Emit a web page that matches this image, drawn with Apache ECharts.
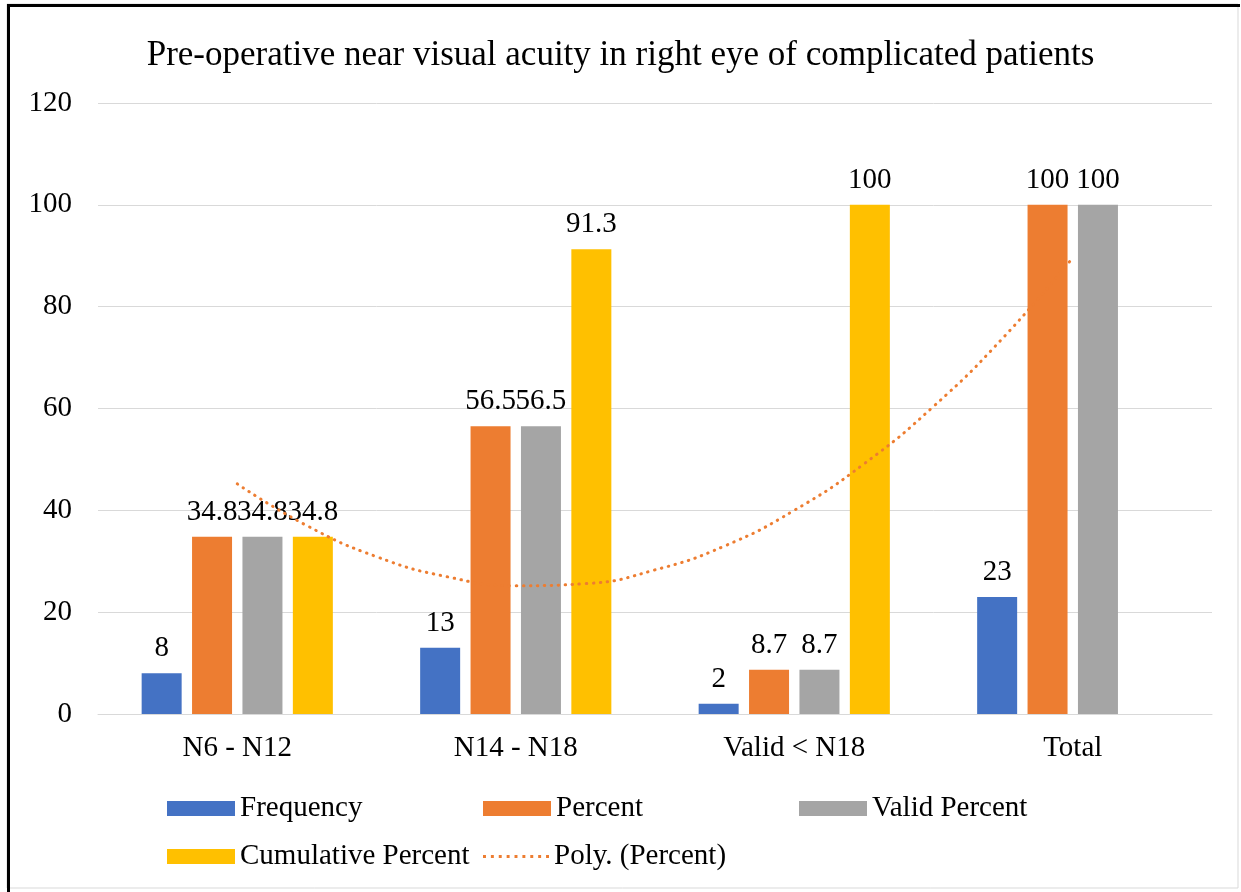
<!DOCTYPE html>
<html>
<head>
<meta charset="utf-8">
<script src="https://cdn.jsdelivr.net/npm/echarts@6/dist/echarts.min.js"></script>
<style>
html,body{margin:0;padding:0;background:#fff;}
#c{width:1241px;height:892px;}
</style>
</head>
<body>
<div id="c"></div>
<script>
const categories = ['N6 - N12', 'N14 - N18', 'Valid < N18', 'Total'];
const frequency = [8, 13, 2, 23];
const percent = [34.8, 56.5, 8.7, 100];
const validPercent = [34.8, 56.5, 8.7, 100];
const cumulativePercent = [34.8, 91.3, 100, null];
// Trend line (Poly. (Percent)): [category position, value]
const trendX = [1, 1.25, 1.5, 1.75, 2, 2.25, 2.5, 2.75, 3, 3.25, 3.5, 3.75, 4];
const trendY = [45.2, 37, 30.9, 27, 25.2, 25.6, 28.3, 33, 40, 49.1, 60.4, 73.9, 89.6];
const yTicks = [0, 20, 40, 60, 80, 100, 120];

const FONT = 'Liberation Serif';
const chart = echarts.init(document.getElementById('c'));

const label = {show: true, position: 'top', distance: 10, fontFamily: FONT, fontSize: 29, color: '#000'};
function bar(name, data, color) {
  return {name, type: 'bar', data, barWidth: 40, barGap: '26%', itemStyle: {color}, label, z: 2};
}
const legendCommon = {itemWidth: 68, itemHeight: 15, itemGap: 8, icon: 'rect',
  textStyle: {fontFamily: FONT, fontSize: 29, color: '#000'}, selectedMode: false};

// dotted-line icon for the trendline legend entry
let dotPath = 'path://';
for (let i = 0; i < 9; i++) {
  const x = i * 8;
  dotPath += 'M' + x + ',0 L' + (x + 3) + ',0 L' + (x + 3) + ',3 L' + x + ',3 Z ';
}

chart.setOption({
  animation: false,
  backgroundColor: '#fff',
  title: {
    text: 'Pre-operative near visual acuity in right eye of complicated patients',
    left: 'center', top: 33,
    textStyle: {fontFamily: FONT, fontSize: 35, fontWeight: 'normal', color: '#000'}
  },
  graphic: [
    {type: 'rect', shape: {x: 7, y: 4, width: 1231, height: 884}, style: {fill: 'none', stroke: '#d9d9d9', lineWidth: 1}, z: 10},
    {type: 'line', shape: {x1: 7, y1: 5.5, x2: 1240, y2: 5.5}, style: {stroke: '#000', lineWidth: 3}, z: 11},
    {type: 'line', shape: {x1: 8.5, y1: 4, x2: 8.5, y2: 892}, style: {stroke: '#000', lineWidth: 3}, z: 11}
  ],
  legend: [
    Object.assign({data: ['Frequency'], left: 162, top: 789}, legendCommon),
    Object.assign({data: ['Percent'], left: 478, top: 789}, legendCommon),
    Object.assign({data: ['Valid Percent'], left: 794, top: 789}, legendCommon),
    Object.assign({data: ['Cumulative Percent'], left: 162, top: 837}, legendCommon),
    Object.assign({}, legendCommon, {data: [{name: 'Poly. (Percent)', icon: dotPath}], left: 478, top: 837,
      itemWidth: 66, itemHeight: 3})
  ],
  grid: {left: 98, right: 29, top: 103, bottom: 178, containLabel: false},
  xAxis: [
    {
      type: 'category', data: categories,
      axisLine: {lineStyle: {color: '#d9d9d9', width: 1}},
      axisTick: {show: false},
      axisLabel: {fontFamily: FONT, fontSize: 29, color: '#000', margin: 20}
    },
    {type: 'value', min: 0.5, max: 4.5, show: false}
  ],
  yAxis: {
    type: 'value', min: 0, max: 120, interval: 20,
    axisLine: {show: false}, axisTick: {show: false},
    splitLine: {lineStyle: {color: '#d9d9d9', width: 1}},
    axisLabel: {fontFamily: FONT, fontSize: 29, color: '#000', margin: 26,
      formatter: v => yTicks.includes(v) ? String(v) : ''}
  },
  series: [
    bar('Frequency', frequency, '#4472C4'),
    bar('Percent', percent, '#ED7D31'),
    bar('Valid Percent', validPercent, '#A5A5A5'),
    bar('Cumulative Percent', cumulativePercent, '#FFC000'),
    {
      name: 'Poly. (Percent)', type: 'line', xAxisIndex: 1, smooth: true, symbol: 'none',
      data: trendX.map((x, i) => [x, trendY[i]]),
      lineStyle: {color: '#ED7D31', width: 3, type: [0.5, 6.5], cap: 'round'},
      itemStyle: {color: '#ED7D31'},
      z: 5
    }
  ]
});
</script>
</body>
</html>
